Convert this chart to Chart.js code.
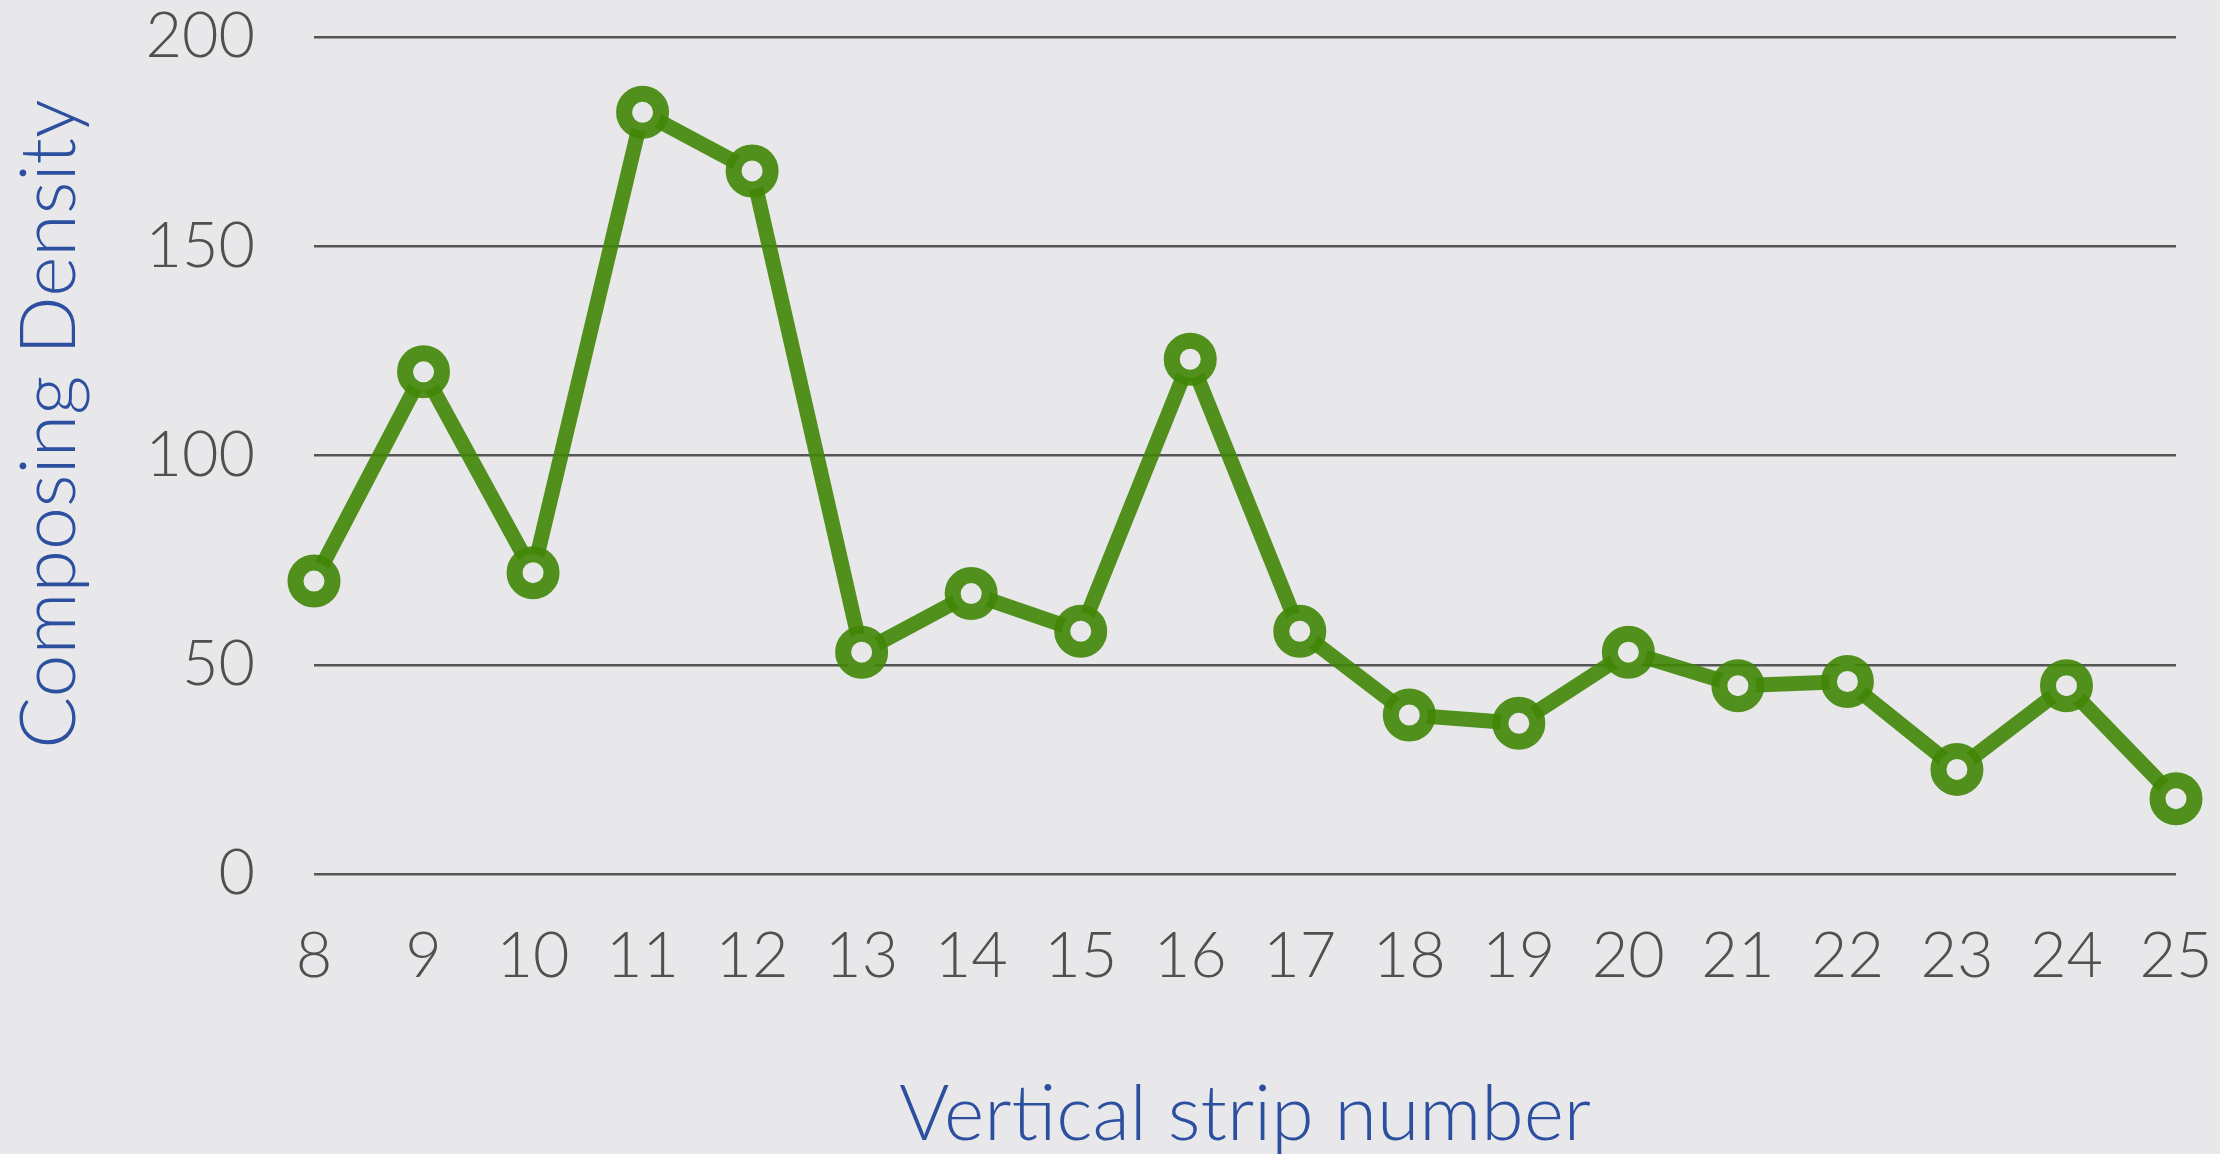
<!DOCTYPE html>
<html>
<head>
<meta charset="utf-8">
<script src="https://cdn.jsdelivr.net/npm/chart.js@4/dist/chart.umd.min.js"></script>
<style>
  html, body { margin: 0; padding: 0; background: #e8e8ea; }
  #wrap { width: 2220px; height: 1154px; }
</style>
</head>
<body>
<div id="wrap"><canvas id="chart" width="2220" height="1154"></canvas></div>
<script>
// data
const strips = ['8', '9', '10', '11', '12', '13', '14', '15', '16', '17', '18', '19', '20', '21', '22', '23', '24', '25'];
const density = [70, 120, 72, 182, 168, 53, 67, 58, 123, 58, 38, 36, 53, 45, 46, 25, 45, 18];
const yTicks = [0, 50, 100, 150, 200];

const bg = '#e8e8ea';
const green = 'rgba(64, 134, 6, 0.9)';
const tickFont = { family: 'Lato, "Noto Sans", sans-serif', size: 63, weight: 300 };
const titleFont = { family: 'Lato, "Noto Sans", sans-serif', size: 77, weight: 300, lineHeight: 1 };

const ctx = document.getElementById('chart').getContext('2d');
new Chart(ctx, {
    type: 'line',
    data: {
        labels: strips,
        datasets: [{
            data: density,
            borderColor: green,
            borderWidth: 15,
            pointRadius: 18.5,
            pointBorderWidth: 16,
            pointBorderColor: green,
            pointBackgroundColor: bg,
            tension: 0,
            fill: false,
            clip: false
        }]
    },
    options: {
        responsive: false,
        animation: false,
        layout: { autoPadding: false, padding: { top: 37, right: 44, left: 0, bottom: 0 } },
        plugins: {
            legend: { display: false },
            tooltip: { enabled: false }
        },
        scales: {
            x: {
                offset: false,
                grid: { display: false, drawTicks: false },
                border: { display: false },
                ticks: { color: '#505050', font: tickFont, padding: 45, maxRotation: 0, autoSkip: false },
                title: {
                    display: true,
                    text: 'Vertical strip number',
                    color: '#2c4fa0',
                    font: titleFont,
                    padding: { top: 0, bottom: 0 }
                },
                afterFit: (scale) => {
                    scale.height = 280;
                    scale.paddingLeft = 0;
                    scale.paddingRight = 0;
                }
            },
            y: {
                min: 0,
                max: 200,
                afterBuildTicks: (scale) => { scale.ticks = yTicks.map(v => ({ value: v })); },
                grid: { color: '#555555', lineWidth: 2.5, drawTicks: false },
                border: { display: false },
                ticks: { color: '#505050', font: tickFont, padding: 59 },
                title: {
                    display: true,
                    // leading spaces nudge the rotated title up a little, as in the original
                    text: '   Composing Density',
                    color: '#2c4fa0',
                    font: titleFont,
                    padding: { top: 12, bottom: 0 }
                },
                afterFit: (scale) => {
                    scale.width = 314;
                    scale.paddingTop = 0;
                    scale.paddingBottom = 0;
                }
            }
        }
    },
    plugins: [{
        id: 'bg',
        beforeDraw: (chart) => {
            const c = chart.ctx;
            c.save();
            c.fillStyle = bg;
            c.fillRect(0, 0, chart.width, chart.height);
            c.restore();
        }
    }]
});
</script>
</body>
</html>
